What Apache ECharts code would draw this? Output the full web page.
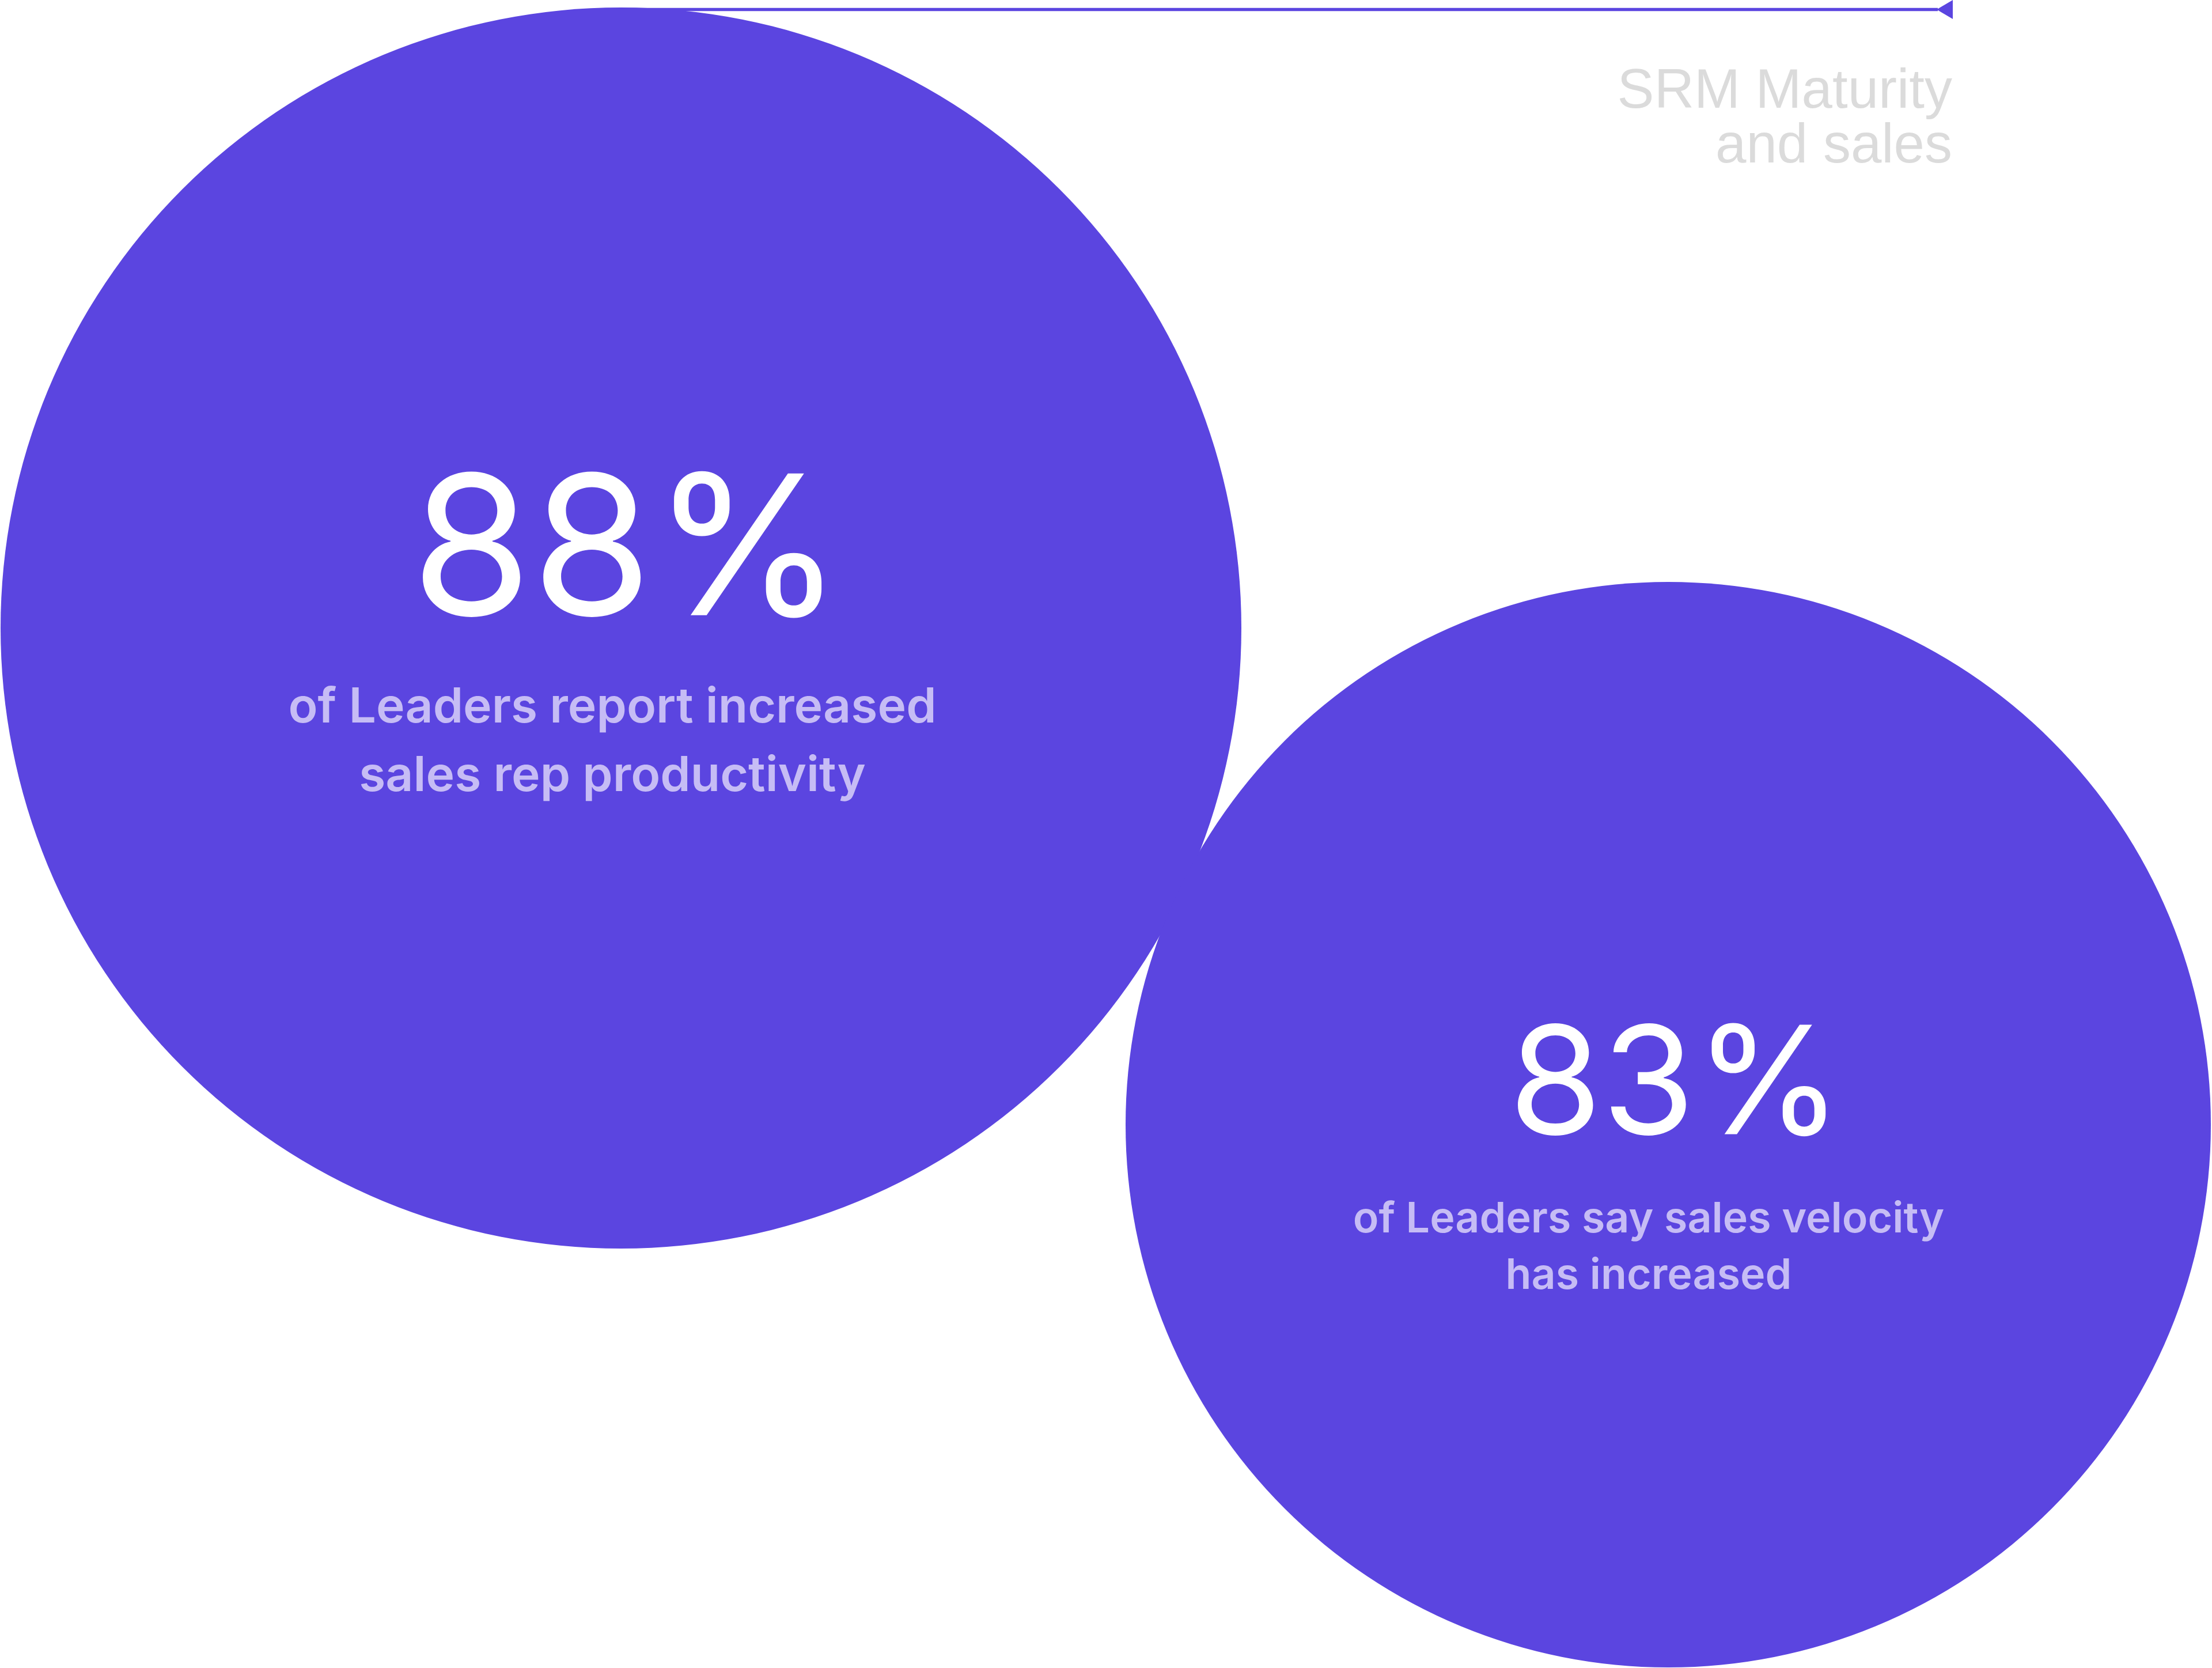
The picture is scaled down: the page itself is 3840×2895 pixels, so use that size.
<!DOCTYPE html>
<html>
<head>
<meta charset="utf-8">
<script src="https://cdn.jsdelivr.net/npm/echarts@6/dist/echarts.min.js"></script>
<style>
  html, body { margin: 0; padding: 0; background: #ffffff; }
  #chart { width: 3840px; height: 2895px; }
</style>
</head>
<body>
<div id="chart"></div>
<script>
// ---- data ----
const statValues = [88, 83];
const statLabels = ['88%', '83%'];
const captions = [
  ['of Leaders report increased', 'sales rep productivity'],
  ['of Leaders say sales velocity', 'has increased']
];
const titleLines = ['SRM Maturity', 'and sales'];

// ---- layout (pixel space of the 3840 x 2895 canvas) ----
const W = 3840, H = 2895;
const circleLayout = [
  { x: 1078, y: 1090, d: 2154 },
  { x: 2896, y: 1952, d: 1884 }
];
const statLayout = [
  { x: 1089, y: 966, size: 338 },
  { x: 2909, y: 1890, size: 261 }
];
const captionLayout = [
  { x: 1063, y: 1288, size: 84, lh: 119 },
  { x: 2862, y: 2166, size: 73.5, lh: 98 }
];
const titleLayout = { x: 3389, y: 208, size: 96, lh: 95 };
const connector = { x0: 1078, x1: 3364, y: 16.5, width: 5.5 };
const arrowLayout = { x: 3376, y: 16.5, w: 33, h: 28 };

const PURPLE = '#5b45e0';
const LAVENDER = '#c6bcf5';
const GREY = '#dbdbdb';

const chart = echarts.init(document.getElementById('chart'), null, { renderer: 'canvas' });

const textItems = [];
statLabels.forEach((t, i) => {
  textItems.push({
    value: [statLayout[i].x, statLayout[i].y],
    label: {
      show: true, position: 'inside', formatter: t, opacity: 1,
      fontFamily: 'Inter', fontWeight: 400, fontSize: statLayout[i].size,
      lineHeight: statLayout[i].size, color: '#ffffff',
      align: 'center', verticalAlign: 'middle'
    }
  });
});
captions.forEach((lines, i) => {
  textItems.push({
    value: [captionLayout[i].x, captionLayout[i].y],
    label: {
      show: true, position: 'inside', formatter: lines.join('\n'), opacity: 1,
      fontFamily: 'Inter', fontWeight: 600, fontSize: captionLayout[i].size,
      lineHeight: captionLayout[i].lh, color: LAVENDER,
      align: 'center', verticalAlign: 'middle'
    }
  });
});
textItems.push({
  value: [titleLayout.x, titleLayout.y],
  label: {
    show: true, position: 'inside', formatter: titleLines.join('\n'), opacity: 1,
    fontFamily: 'Liberation Sans', fontWeight: 400, fontSize: titleLayout.size,
    lineHeight: titleLayout.lh, color: GREY,
    align: 'right', verticalAlign: 'middle'
  }
});

chart.setOption({
  animation: false,
  backgroundColor: '#ffffff',
  grid: { left: 0, right: 0, top: 0, bottom: 0 },
  xAxis: { type: 'value', min: 0, max: W, show: false },
  yAxis: { type: 'value', min: 0, max: H, inverse: true, show: false },
  series: [
    {
      name: 'stats',
      type: 'scatter',
      silent: true,
      z: 1,
      data: statValues.map((v, i) => [circleLayout[i].x, circleLayout[i].y, v]),
      symbol: 'circle',
      symbolSize: (val, params) => circleLayout[params.dataIndex].d,
      itemStyle: { color: PURPLE, opacity: 1 }
    },
    {
      name: 'connector',
      type: 'line',
      silent: true,
      z: 2,
      symbol: 'none',
      data: [[connector.x0, connector.y], [connector.x1, connector.y]],
      lineStyle: { color: PURPLE, width: connector.width, opacity: 1 }
    },
    {
      name: 'arrow',
      type: 'scatter',
      silent: true,
      z: 3,
      data: [[arrowLayout.x, arrowLayout.y]],
      symbol: 'triangle',
      symbolRotate: 90,
      symbolSize: [arrowLayout.w, arrowLayout.h],
      itemStyle: { color: PURPLE, opacity: 1 }
    },
    {
      name: 'texts',
      type: 'scatter',
      silent: true,
      z: 5,
      symbolSize: 0,
      itemStyle: { opacity: 1 },
      data: textItems
    }
  ]
});
</script>
</body>
</html>
